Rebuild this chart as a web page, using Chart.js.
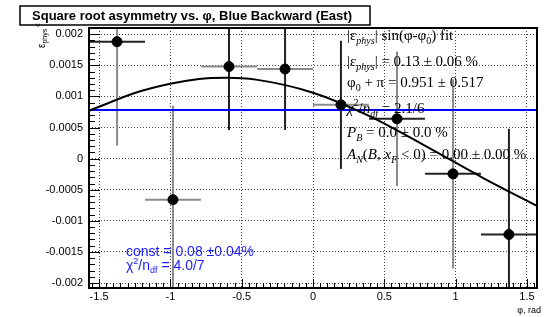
<!DOCTYPE html>
<html>
<head>
<meta charset="utf-8">
<script src="https://cdn.jsdelivr.net/npm/chart.js@4.4.1/dist/chart.umd.min.js"></script>
<style>
    html, body { margin: 0; padding: 0; background: #ffffff; }
    #wrap { width: 547px; height: 317px; position: relative; }
</style>
</head>
<body>
<div id="wrap"><canvas id="asymChart" width="547" height="317"></canvas></div>
<script>
// Square root asymmetry vs phi, Blue Backward (East)

// bins (rad) and half widths
const phiCenters = [-1.374, -0.982, -0.589, -0.196, 0.196, 0.589, 0.982, 1.374];
const phiHalfWidths = [0.196, 0.196, 0.196, 0.196, 0.196, 0.196, 0.196, 0.196];
// measured asymmetry and its error
const asymValues = [0.00188, -0.00066, 0.00148, 0.00144, 0.000865, 0.00064, -0.000245, -0.00122];
const asymErrors = [0.00167, 0.00151, 0.00102, 0.00098, 0.00103, 0.00108, 0.00152, 0.00170];

// sine fit curve
const fitPhi = [-1.5708, -1.2, -0.8, -0.6, -0.4, 0, 0.4, 0.8, 1.2, 1.5708];
const fitValues = [0.00077, 0.00109, 0.00128, 0.00130, 0.00127, 0.00106, 0.00068, 0.00019, -0.00032, -0.00076];

// constant fit
const constPhi = [-1.5708, 1.5708];
const constValues = [0.00078, 0.00078];

// axis ticks
const xTicks = [-1.5, -1, -0.5, 0, 0.5, 1, 1.5];
const xTickLabels = ['-1.5', '-1', '-0.5', '0', '0.5', '1', '1.5'];
const yTicks = [-0.002, -0.0015, -0.001, -0.0005, 0, 0.0005, 0.001, 0.0015, 0.002];
const yTickLabels = ['-0.002', '-0.0015', '-0.001', '-0.0005', '0', '0.0005', '0.001', '0.0015', '0.002'];

// error bar colours (x bar, y bar) per point
const xBarColors = ['#222', '#8a8a8a', '#8a8a8a', '#8a8a8a', '#8a8a8a', '#222', '#222', '#222'];
const yBarColors = ['#8a8a8a', '#8a8a8a', '#222', '#222', '#222', '#8a8a8a', '#8a8a8a', '#222'];

// draw text made of pieces: [text, 'n'|'sub'|'sup', italic]
function drawRich(ctx, pieces, x, y, size, family, color) {
    ctx.fillStyle = color;
    ctx.textBaseline = 'middle';
    ctx.textAlign = 'left';
    let cx = x;
    pieces.forEach(p => {
        const mode = p[1] || 'n';
        const it = p[2] ? 'italic ' : '';
        let s = size, dy = 0;
        if (mode === 'sub') { s = Math.round(size * 0.65); dy = size * 0.35; }
        if (mode === 'sup') { s = Math.round(size * 0.65); dy = -size * 0.35; }
        ctx.font = it + s + 'px ' + family;
        ctx.fillText(p[0], cx, y + dy);
        cx += ctx.measureText(p[0]).width;
    });
}

const rootStyle = {
    id: 'rootStyle',
    beforeDatasetsDraw(chart) {
        const ctx = chart.ctx;
        const area = chart.chartArea;
        const xs = chart.scales.x, ys = chart.scales.y;
        ctx.save();
        ctx.beginPath();
        ctx.rect(area.left, area.top, area.right - area.left, area.bottom - area.top);
        ctx.clip();
        ctx.lineWidth = 2;
        phiCenters.forEach((phi, i) => {
            const px = xs.getPixelForValue(phi);
            const py = ys.getPixelForValue(asymValues[i]);
            ctx.strokeStyle = xBarColors[i];
            ctx.beginPath();
            ctx.moveTo(xs.getPixelForValue(phi - phiHalfWidths[i]), py);
            ctx.lineTo(xs.getPixelForValue(phi + phiHalfWidths[i]), py);
            ctx.stroke();
            ctx.strokeStyle = yBarColors[i];
            ctx.beginPath();
            ctx.moveTo(px, ys.getPixelForValue(asymValues[i] - asymErrors[i]));
            ctx.lineTo(px, ys.getPixelForValue(asymValues[i] + asymErrors[i]));
            ctx.stroke();
        });
        ctx.restore();
    },
    afterDraw(chart) {
        const ctx = chart.ctx;
        const area = chart.chartArea;
        const xs = chart.scales.x, ys = chart.scales.y;
        ctx.save();

        // frame
        ctx.strokeStyle = '#000';
        ctx.lineWidth = 2;
        ctx.strokeRect(area.left, area.top, area.right - area.left, area.bottom - area.top);

        // ticks inside the frame
        ctx.lineWidth = 1;
        ctx.beginPath();
        for (let k = -21; k <= 21; k++) {
            const v = k * 0.0001;
            const py = Math.round(ys.getPixelForValue(v)) + 0.5;
            if (py < area.top || py > area.bottom) continue;
            const len = (k % 5 === 0) ? 11 : 6;
            ctx.moveTo(area.left, py);
            ctx.lineTo(area.left + len, py);
        }
        for (let k = -31; k <= 31; k++) {
            const v = k * 0.05;
            const px = Math.round(xs.getPixelForValue(v)) + 0.5;
            if (px < area.left || px > area.right) continue;
            const len = (k % 10 === 0) ? 9 : 5;
            ctx.moveTo(px, area.bottom);
            ctx.lineTo(px, area.bottom - len);
        }
        ctx.stroke();

        // title box
        ctx.fillStyle = '#fff';
        ctx.fillRect(20, 6, 350, 19);
        ctx.strokeStyle = '#000';
        ctx.lineWidth = 1.5;
        ctx.strokeRect(20, 6, 350, 19);
        ctx.fillStyle = '#000';
        ctx.font = 'bold 13px "Liberation Sans", Arial, sans-serif';
        ctx.textAlign = 'center';
        ctx.textBaseline = 'middle';
        ctx.fillText('Square root asymmetry vs. \u03c6, Blue Backward (East)', 192, 16);

        // axis titles
        ctx.font = '9px "Liberation Sans", Arial, sans-serif';
        ctx.textAlign = 'right';
        ctx.fillText('\u03c6, rad', 541, 311);
        ctx.save();
        ctx.translate(42, 48);
        ctx.rotate(-Math.PI / 2);
        drawRich(ctx, [['\u03b5'], ['phys', 'sub'], [' c', 'sup']], 0, 0, 10, '"Liberation Sans", Arial, sans-serif', '#000');
        ctx.restore();

        // sine fit stats
        const serif = '"Liberation Serif", "Times New Roman", serif';
        const sx = 347;
        drawRich(ctx, [['|\u03b5'], ['phys', 'sub', true], ['| sin(\u03c6-\u03c6'], ['0', 'sub'], [') fit']], sx, 36, 15, serif, '#000');
        drawRich(ctx, [['|\u03b5'], ['phys', 'sub', true], ['| = 0.13 \u00b1 0.06 %']], sx, 62, 15, serif, '#000');
        drawRich(ctx, [['\u03c6'], ['0', 'sub'], [' + \u03c0 = 0.951 \u00b1 0.517']], sx, 83, 15, serif, '#000');
        drawRich(ctx, [['\u03c7', 'n', true], ['2', 'sup'], ['/'], ['n', 'n', true], ['df', 'sub', true], [' = 2.1/6']], sx, 109, 15, serif, '#000');
        drawRich(ctx, [['P', 'n', true], ['B', 'sub', true], [' = 0.0 \u00b1 0.0 %']], sx, 133, 15, serif, '#000');
        drawRich(ctx, [['A', 'n', true], ['N', 'sub', true], ['('], ['B', 'n', true], [', '], ['x', 'n', true], ['F', 'sub', true], [' < 0) = 0.00 \u00b1 0.00 %']], sx, 155, 15, serif, '#000');

        // constant fit stats
        const sans = '"Liberation Sans", Arial, sans-serif';
        drawRich(ctx, [['const = 0.08 \u00b10.04%']], 126, 252, 14, sans, '#1a1aff');
        drawRich(ctx, [['\u03c7'], ['2', 'sup'], ['/n'], ['df', 'sub'], [' = 4.0/7']], 126, 266, 14, sans, '#1a1aff');

        ctx.restore();
    }
};

const points = phiCenters.map((phi, i) => ({ x: phi, y: asymValues[i] }));
const fitLine = fitPhi.map((phi, i) => ({ x: phi, y: fitValues[i] }));
const constLine = constPhi.map((phi, i) => ({ x: phi, y: constValues[i] }));

new Chart(document.getElementById('asymChart'), {
    type: 'scatter',
    data: {
        datasets: [
            {
                data: points,
                pointRadius: 5,
                pointBackgroundColor: '#000',
                pointBorderColor: '#000',
                showLine: false
            },
            {
                type: 'line',
                data: fitLine,
                borderColor: '#000',
                borderWidth: 2,
                pointRadius: 0,
                cubicInterpolationMode: 'monotone',
                fill: false
            },
            {
                type: 'line',
                data: constLine,
                borderColor: '#0000ff',
                borderWidth: 2,
                pointRadius: 0,
                fill: false
            }
        ]
    },
    options: {
        responsive: false,
        animation: false,
        layout: { padding: { left: 0, top: 28, right: 10, bottom: 0 } },
        plugins: { legend: { display: false }, tooltip: { enabled: false } },
        scales: {
            x: {
                type: 'linear',
                min: -1.5708,
                max: 1.5708,
                afterBuildTicks: scale => { scale.ticks = xTicks.map(v => ({ value: v })); },
                afterFit: scale => { scale.height = 29; },
                ticks: {
                    color: '#000',
                    padding: 2,
                    maxRotation: 0,
                    autoSkip: false,
                    font: { family: '"Liberation Sans", Arial, sans-serif', size: 11 },
                    callback: (v, i) => xTickLabels[i]
                },
                grid: { color: '#444', lineWidth: 1, drawTicks: false },
                border: { display: false, dash: [1, 2] }
            },
            y: {
                type: 'linear',
                min: -0.00208,
                max: 0.0021,
                afterBuildTicks: scale => { scale.ticks = yTicks.map(v => ({ value: v })); },
                afterFit: scale => { scale.width = 89; },
                ticks: {
                    color: '#000',
                    padding: 6,
                    autoSkip: false,
                    font: { family: '"Liberation Sans", Arial, sans-serif', size: 11 },
                    callback: (v, i) => yTickLabels[i]
                },
                grid: { color: '#444', lineWidth: 1, drawTicks: false },
                border: { display: false, dash: [1, 2] }
            }
        }
    },
    plugins: [rootStyle]
});
</script>
</body>
</html>
